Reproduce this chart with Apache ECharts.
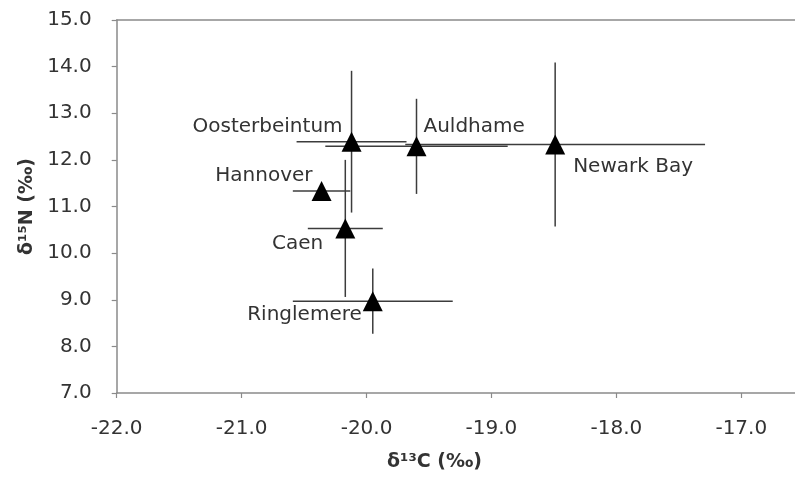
<!DOCTYPE html>
<html>
<head>
<meta charset="utf-8">
<script src="https://cdn.jsdelivr.net/npm/echarts@6/dist/echarts.min.js"></script>
<style>html,body{margin:0;padding:0;background:#fff}#c{width:795px;height:481px}</style>
</head>
<body>
<div id="c"></div>
<script>
// ---- data ----
const sites = ['Oosterbeintum', 'Auldhame', 'Newark Bay', 'Hannover', 'Caen', 'Ringlemere'];
const d13C = [-20.12, -19.60, -18.49, -20.36, -20.17, -19.95];
const d15N = [12.39, 12.29, 12.33, 11.33, 10.53, 8.97];
const d13CErr = [0.44, 0.73, 1.20, 0.23, 0.30, 0.64];
const d15NErr = [1.52, 1.02, 1.76, 0.00, 1.47, 0.70];
const xTicks = [-22, -21, -20, -19, -18, -17];
const yTicks = [7, 8, 9, 10, 11, 12, 13, 14, 15];

// ---- label layout (style, not data) ----
const labelLayout = [
  { align: 'right', offset: [-9, -15] },
  { align: 'left', offset: [7, -20] },
  { align: 'left', offset: [18, 22] },
  { align: 'right', offset: [-9, -15] },
  { align: 'right', offset: [-22, 15] },
  { align: 'right', offset: [-11, 14] }
];

const FONT = 'DejaVu Sans';
const TXT = '#333333';
const AX = '#8a8a8a';

const chart = echarts.init(document.getElementById('c'), null, { renderer: 'canvas' });

const errData = sites.map((s, i) => [d13C[i], d15N[i], d13CErr[i], d15NErr[i]]);
const ptData = sites.map((s, i) => ({
  name: s,
  value: [d13C[i], d15N[i]],
  label: {
    show: true,
    position: 'inside',
    align: labelLayout[i].align,
    verticalAlign: 'middle',
    offset: labelLayout[i].offset,
    formatter: '{b}',
    color: TXT,
    fontFamily: FONT,
    fontSize: 20
  }
}));

chart.setOption({
  animation: false,
  backgroundColor: '#fff',
  grid: { left: 116.7, top: 20, right: 0, bottom: 88, containLabel: false },
  xAxis: [{
    type: 'value', min: xTicks[0], max: -16.57, interval: 1,
    axisLine: { show: true, onZero: false, lineStyle: { color: AX, width: 1.5 } },
    axisTick: { show: true, length: 5, lineStyle: { color: AX, width: 1.2 } },
    axisLabel: { showMaxLabel: false, margin: 26, color: TXT, fontFamily: FONT, fontSize: 20,
      formatter: v => v.toFixed(1) },
    splitLine: { show: false }
  }, {
    type: 'value', position: 'top', min: xTicks[0], max: -16.57,
    axisLine: { show: true, lineStyle: { color: AX, width: 1.5 } },
    axisTick: { show: false }, axisLabel: { show: false }, splitLine: { show: false }
  }],
  yAxis: {
    type: 'value', min: yTicks[0], max: yTicks[yTicks.length - 1], interval: 1,
    name: 'δ¹⁵N (‰)', nameLocation: 'middle', nameGap: 76, nameRotate: 90,
    nameTextStyle: { color: TXT, fontFamily: FONT, fontSize: 19, fontWeight: 'bold' },
    axisLine: { show: true, onZero: false, lineStyle: { color: AX, width: 1.5 } },
    axisTick: { show: true, length: 5, lineStyle: { color: AX, width: 1.2 } },
    axisLabel: { margin: 25, color: TXT, fontFamily: FONT, fontSize: 20,
      formatter: v => v.toFixed(1) },
    splitLine: { show: false }
  },
  graphic: [{
    type: 'text', left: 437 - 50, top: 453,
    style: { text: 'δ¹³C (‰)', fill: TXT, font: 'bold 19px "DejaVu Sans"' }
  }],
  series: [{
    type: 'custom',
    data: errData,
    z: 2,
    renderItem: function (params, api) {
      const x = api.value(0), y = api.value(1), ex = api.value(2), ey = api.value(3);
      const l = api.coord([x - ex, y]), r = api.coord([x + ex, y]);
      const t = api.coord([x, y + ey]), b = api.coord([x, y - ey]);
      const st = { stroke: '#3c3c3c', lineWidth: 1.5 };
      const kids = [];
      if (ex > 0) kids.push({ type: 'line', shape: { x1: l[0], y1: l[1], x2: r[0], y2: r[1] }, style: st });
      if (ey > 0) kids.push({ type: 'line', shape: { x1: t[0], y1: t[1], x2: b[0], y2: b[1] }, style: st });
      return { type: 'group', children: kids };
    }
  }, {
    type: 'scatter',
    symbol: 'triangle',
    symbolSize: 20,
    itemStyle: { color: '#000', opacity: 1 },
    z: 3,
    data: ptData
  }]
});
</script>
</body>
</html>
